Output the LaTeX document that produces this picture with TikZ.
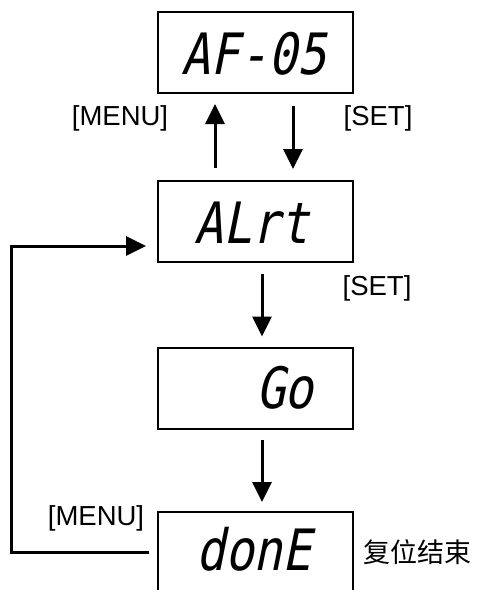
\documentclass[tikz,border=0pt]{standalone}
\usepackage{fontspec}
\setmainfont{Liberation Sans}
\newfontfamily\cjk{Noto Sans CJK SC}
\newfontfamily\segfont[FakeStretch=0.84,FakeSlant=0.2]{DejaVu Sans Mono}
\usetikzlibrary{positioning,arrows.meta}

\begin{document}
\begin{tikzpicture}[x=1pt, y=-1pt,
  font=\fontsize{27.5}{30}\selectfont,
  disp/.style={draw, line width=2pt, minimum width=195pt, minimum height=81pt,
               inner sep=0pt},
  seg/.style={font=\fontsize{57}{60}\selectfont\segfont, inner sep=0pt},
  key/.style={inner sep=0pt},
  arr/.style={-{Triangle[length=20pt,width=19pt]}, line width=3pt}]
\clip (0,0) rectangle (478,590);
\useasboundingbox (0,0) rectangle (478,590);
\node[disp] (af05) at (255.5,52.5) {};
\node[disp] (alrt) at (255.5,221.5) {};
\node[disp] (go) at (255.5,388) {};
\node[disp] (done) at (255.5,552) {};
\node[seg] (t1) at (254,54) {AF-05};
\node[seg] (t2) at (252,223) {ALrt};
\node[seg] (t3) at (285,388) {Go};
\node[seg] (t4) at (254,549) {donE};
\coordinate (loopc) at (11,552);
\draw[arr, shorten <=12pt, shorten >=10pt]
  ([xshift=-40.5pt]alrt.north) -- ([xshift=-40.5pt]af05.south);
\draw[arr, shorten <=12pt, shorten >=11pt]
  ([xshift=37.5pt]af05.south) -- ([xshift=37.5pt]alrt.north);
\draw[arr, shorten <=11pt, shorten >=10pt]
  ([xshift=6.5pt]alrt.south) -- ([xshift=6.5pt]go.north);
\draw[arr, shorten <=10pt, shorten >=8.5pt]
  ([xshift=6.5pt]go.south) -- ([xshift=6.5pt]done.north);
\draw[arr, shorten <=8pt, shorten >=11pt]
  (done.west) -- (loopc) |- ([yshift=-24.5pt]alrt.west);
\node[key] (menu1) at (120,118) {[MENU]};
\node[key] (set1) at (378,118) {[SET]};
\node[key] (set2) at (377,288) {[SET]};
\node[key] (menu2) at (96,518) {[MENU]};
\node[key, font=\fontsize{27}{30}\selectfont\cjk] (note) at (417,552) {复位结束};
\end{tikzpicture}
\end{document}
